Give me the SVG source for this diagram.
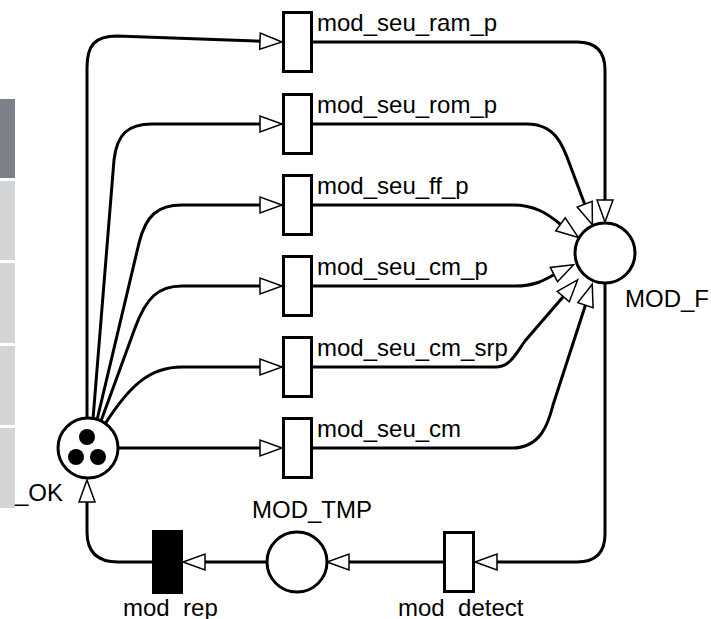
<svg xmlns="http://www.w3.org/2000/svg" width="711" height="619" viewBox="0 0 711 619">
<style>
.ln{fill:none;stroke:#000;stroke-width:3;marker-end:url(#ah)}
.ln0{fill:none;stroke:#000;stroke-width:3}
.tr{fill:#fff;stroke:#000;stroke-width:3}
.pl{fill:#fff;stroke:#000;stroke-width:3}
.lb{font-family:"Liberation Sans",Arial,sans-serif;font-size:24px;fill:#000}
</style>
<defs>
<marker id="ah" markerUnits="userSpaceOnUse" markerWidth="30" markerHeight="22" viewBox="-21 -11 28 22" refX="0" refY="0" orient="auto" overflow="visible">
<path d="M4,0 L-18,-8 L-18,8 Z" fill="#fff" stroke="#000" stroke-width="1.5" stroke-linejoin="miter"/>
</marker>
</defs>
<rect width="711" height="619" fill="#fff"/>
<g id="sidebar">
<rect x="0" y="99" width="15" height="79" fill="#7b8089"/>
<rect x="0" y="181" width="15" height="79" fill="#d3d4d6"/>
<rect x="0" y="263" width="15" height="80" fill="#d3d4d6"/>
<rect x="0" y="346" width="15" height="79" fill="#d3d4d6"/>
<rect x="0" y="428" width="15" height="80" fill="#d3d4d6"/>
</g>
<g id="connectors">
<path class="ln" d="M87,418 L87,68 C87,45 95,36 117,36 L278,41.8"/>
<path class="ln" d="M93,419 L114,160 C117,134 128,124 152,124 L278,124"/>
<path class="ln" d="M97,420 L139,243 C146,215 158,205 182,205 L278,205"/>
<path class="ln" d="M101,421 L135,328 C146,298 158,286 182,286 L278,286"/>
<path class="ln" d="M105,424 C130,385 150,367 182,367 L278,367"/>
<path class="ln" d="M118,448 L278,448"/>
<path class="ln" d="M313,42 L577,42 Q605,42 605,70 L605,218"/>
<path class="ln" d="M313,124 L527,124 C555,124 563,145 570,165 L591,221"/>
<path class="ln" d="M313,205 L513,205 C535,205 548,214 560,224 L575,235"/>
<path class="ln" d="M313,286 L515,286 C535,286 545,280 557,273 L570,266.5"/>
<path class="ln" d="M313,367 L495,367 C510,367 515,355 525,341 L575,283"/>
<path class="ln" d="M313,448 L512,448 C540,448 548,425 553,405 L591,288"/>
<path class="ln" d="M605,284 L605,534 Q605,562 577,562 L479,562"/>
<path class="ln" d="M443,562 L331,562"/>
<path class="ln" d="M266,562 L187,562"/>
<path class="ln" d="M152,562 L118,562 Q87,562 87,532 L87,484"/>
</g>
<g id="t_ram_p"><rect class="tr" x="283.5" y="12.5" width="28" height="59"/><text class="lb" x="317" y="31">mod_seu_ram_p</text></g>
<g id="t_rom_p"><rect class="tr" x="283.5" y="94.5" width="28" height="59"/><text class="lb" x="317" y="113">mod_seu_rom_p</text></g>
<g id="t_ff_p"><rect class="tr" x="283.5" y="175.5" width="28" height="59"/><text class="lb" x="317" y="194">mod_seu_ff_p</text></g>
<g id="t_cm_p"><rect class="tr" x="283.5" y="256.5" width="28" height="59"/><text class="lb" x="317" y="275">mod_seu_cm_p</text></g>
<g id="t_cm_srp"><rect class="tr" x="283.5" y="337.5" width="28" height="59"/><text class="lb" x="317" y="356">mod_seu_cm_srp</text></g>
<g id="t_cm"><rect class="tr" x="283.5" y="418.5" width="28" height="59"/><text class="lb" x="317" y="437">mod_seu_cm</text></g>
<g id="p_mod_f"><circle class="pl" cx="605" cy="253" r="30"/><text class="lb" x="625" y="307">MOD_F</text></g>
<g id="p_mod_tmp"><circle class="pl" cx="297" cy="562" r="30"/><text class="lb" x="252" y="518">MOD_TMP</text></g>
<g id="p_mod_ok"><circle class="pl" cx="88" cy="448" r="30"/>
<circle cx="87" cy="437" r="8" fill="#000"/><circle cx="76" cy="457" r="8" fill="#000"/><circle cx="98" cy="457" r="8" fill="#000"/>
<text class="lb" x="63" y="501" text-anchor="end">_OK</text></g>
<g id="t_detect"><rect class="tr" x="444.5" y="532.5" width="29" height="59"/><text class="lb" x="398" y="616">mod_detect</text></g>
<g id="t_rep"><rect x="152" y="530" width="31" height="64" fill="#000"/><text class="lb" x="123" y="616">mod_rep</text></g>
</svg>
